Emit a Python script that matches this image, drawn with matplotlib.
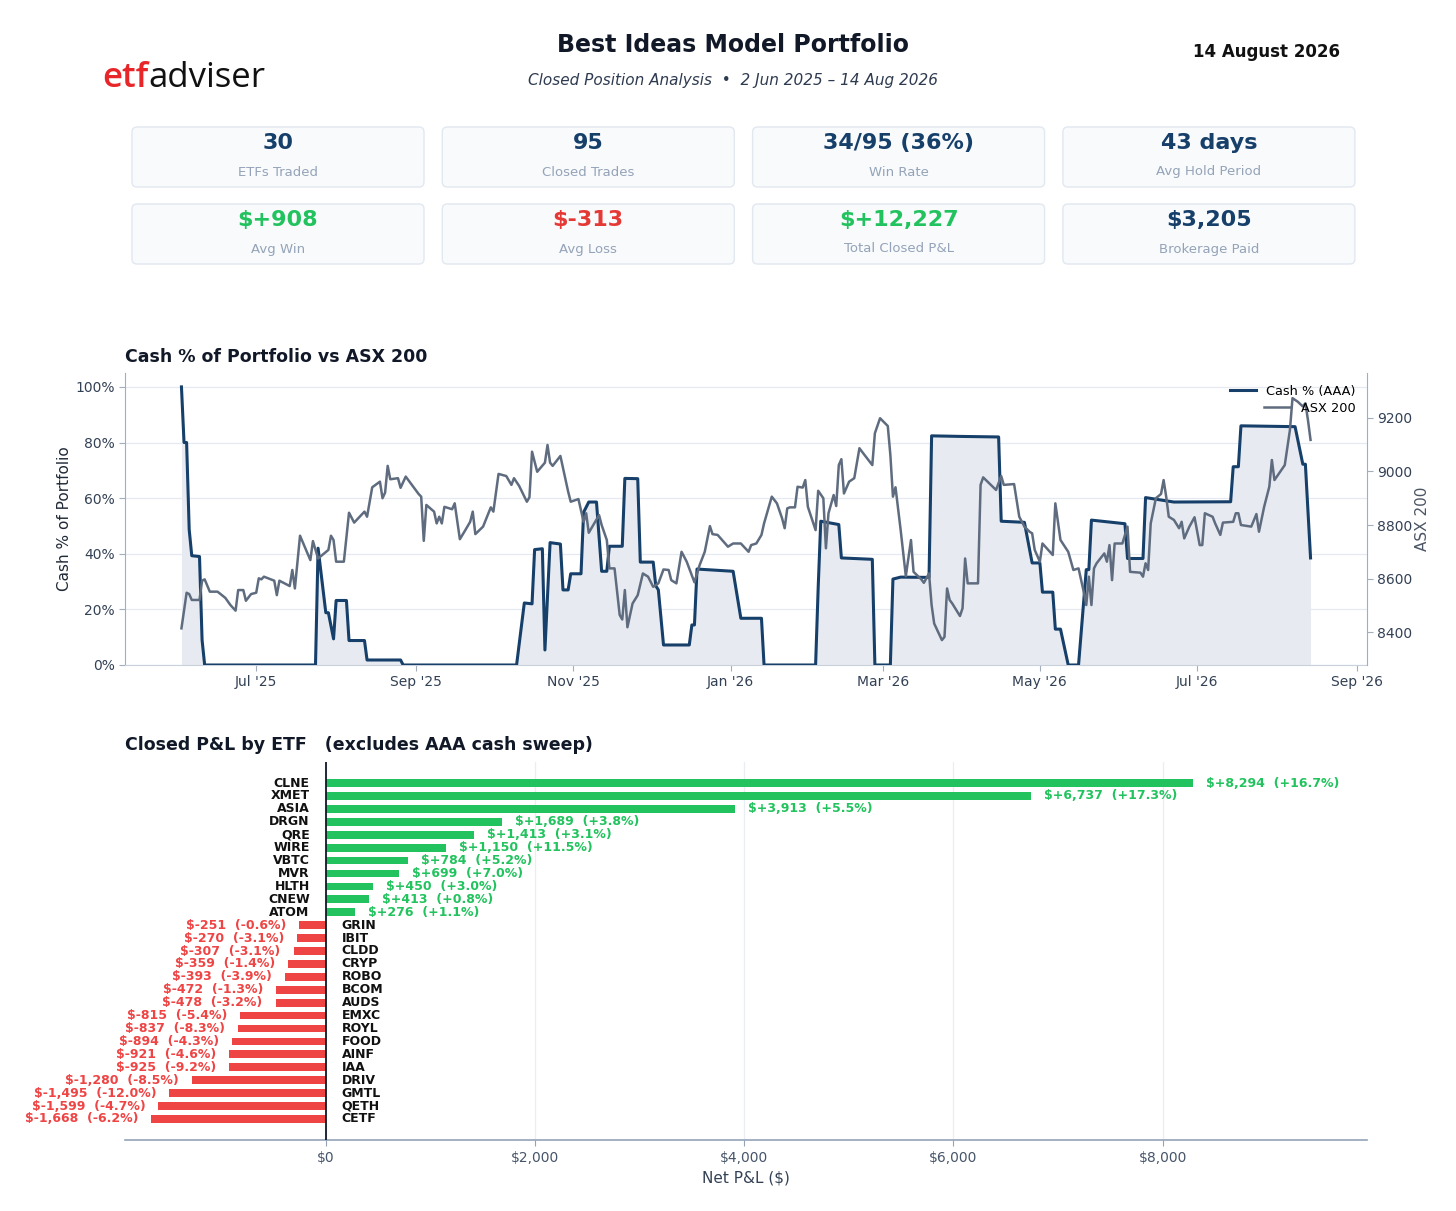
import matplotlib
matplotlib.use('Agg')
import matplotlib.pyplot as plt
import matplotlib.dates as mdates
import matplotlib.ticker as mticker
from matplotlib.patches import FancyBboxPatch
import numpy as np
import pandas as pd

plt.rcParams['font.family'] = ['DejaVu Sans']

# ---------------- data ----------------
START = '2025-06-02'

cash_day = [0, 1, 2, 3, 4, 7, 8, 9,
            52, 53, 56, 57, 59, 60, 64, 65, 71, 72, 85, 86,
            130, 133, 136, 137, 140, 141, 143, 147, 148, 150, 151, 155, 156, 158, 161, 163, 165, 166,
            171, 172, 177, 178, 183, 184, 185, 187, 197, 198, 199, 200, 214, 217, 225, 226,
            246, 247, 248, 255, 256, 268, 269, 275, 276, 279, 290, 291, 302, 317, 318, 327, 330,
            333, 334, 338, 339, 341, 344, 348, 351, 352, 353, 366, 367, 373, 374, 385, 407, 408,
            410, 411, 432, 435, 436, 438]
cash_pct = [100, 80, 80, 48.7, 39.3, 39, 9, 0,
            0, 42, 18.8, 18.8, 9.4, 23.2, 23.2, 8.8, 8.8, 1.8, 1.8, 0,
            0, 22.3, 22, 41.5, 41.8, 5.4, 44, 43.5, 27, 27, 32.8, 32.8, 54.9, 58.6, 58.6, 33.7, 33.7, 42.7,
            42.7, 67.1, 67, 37, 37, 28.5, 27, 7.2, 7.2, 14.4, 14.4, 34.5, 33.7, 16.8, 16.8, 0,
            0, 27.8, 51.7, 50.5, 38.5, 38, 0, 0, 30.9, 31.6, 31.5, 82.4, 82.2, 82, 51.7, 51.3, 36.7,
            36.7, 26.2, 26.2, 12.9, 12.9, 0, 0, 34.3, 34.3, 52.1, 50.8, 38.3, 38.3, 60.2, 58.6, 58.7, 71.3,
            71.3, 86, 85.7, 72.2, 72.2, 38.5]

asx_day = [0, 2, 3, 4, 7, 8, 9, 11, 14, 17, 19, 21, 22, 24, 25, 27, 29, 30, 31, 32, 36, 37, 38,
           42, 43, 44, 46, 50, 51, 53, 57, 58, 59, 60, 63, 65, 67, 71, 72, 74, 77, 78, 79, 80, 81,
           84, 85, 87, 92, 93, 94, 95, 98, 99, 100, 101, 102, 105, 106, 108, 110, 112, 113, 114,
           117, 120, 121, 123, 126, 128, 129, 131, 134, 135, 136, 138, 141, 142, 143, 144, 147,
           150, 151, 154, 156, 157, 158, 162, 163, 165, 166, 168, 170, 171, 172, 173, 175, 177,
           179, 181, 183, 185, 187, 189, 190, 192, 194, 196, 199, 201, 203, 205, 206, 208, 210,
           212, 214, 217, 220, 221, 223, 225, 226, 229, 231, 233, 234, 235, 236, 238, 239, 241,
           242, 243, 246, 247, 249, 250, 251, 253, 254, 255, 256, 257, 259, 261, 263, 264, 268,
           269, 271, 274, 275, 276, 277, 279, 281, 283, 284, 287, 288, 290, 291, 292, 295, 296,
           297, 298, 299, 302, 303, 304, 305, 309, 310, 311, 316, 318, 319, 323, 325, 327, 329,
           330, 331, 333, 334, 338, 339, 341, 344, 346, 348, 350, 351, 352, 353, 354, 355, 358,
           359, 360, 361, 362, 365, 367, 368, 372, 373, 374, 375, 376, 378, 380, 381, 382, 383,
           385, 387, 388, 389, 391, 393, 395, 396, 397, 400, 401, 403, 404, 408, 409, 410, 411,
           415, 417, 418, 420, 422, 423, 424, 428, 430, 431, 433, 435, 436, 437, 438]
asx_val = [8414, 8547, 8542, 8520, 8520, 8592, 8597, 8551, 8551, 8528, 8501, 8480, 8557, 8557, 8517,
           8542, 8547, 8601, 8597, 8607, 8592, 8538, 8592,
           8572, 8632, 8563, 8760, 8669, 8740, 8675, 8707, 8760, 8744, 8663, 8663, 8846, 8809, 8850,
           8831, 8941, 8962, 8900, 8921, 9021, 8971,
           8975, 8939, 8981, 8916, 8906, 8741, 8875, 8850, 8806, 8831, 8806, 8868, 8859, 8881, 8747,
           8779, 8812, 8850, 8766,
           8794, 8866, 8850, 8991, 8983, 8950, 8975, 8946, 8887, 8904, 9074, 8999, 9033, 9099, 9033,
           9021, 9058,
           8925, 8887, 8897, 8812, 8844, 8771, 8837, 8800, 8744, 8638, 8638, 8464, 8447, 8557, 8418,
           8507, 8538,
           8619, 8607, 8569, 8582, 8634, 8632, 8594, 8582, 8700, 8663, 8586, 8650, 8700, 8796, 8766,
           8763, 8741,
           8719, 8731, 8731, 8700, 8725, 8731, 8763, 8806, 8906, 8881, 8825, 8788, 8862, 8866, 8866,
           8943, 8940,
           8968, 8868, 8781, 8928, 8900, 8713, 8844, 8912, 8871, 9024, 9046, 8918, 8962, 8975, 9087,
           9074, 9024,
           9143, 9199, 9170, 9062, 8906, 8941, 8781, 8609, 8744, 8625, 8597, 8584, 8619, 8501, 8432,
           8370, 8382,
           8563, 8520, 8507, 8460, 8489, 8675, 8582, 8582, 8950, 8978, 8931, 8983, 8950, 8953, 8831,
           8794, 8775,
           8769, 8707, 8663, 8731, 8688, 8881, 8744, 8700, 8632, 8638, 8551, 8501, 8607, 8501, 8638,
           8657, 8694,
           8663, 8725, 8594, 8731, 8731, 8794, 8625, 8622, 8607, 8657, 8632, 8806, 8900, 8916, 8968,
           8906, 8831,
           8819, 8788, 8812, 8750, 8794, 8829, 8725, 8725, 8844, 8831, 8806, 8763, 8809, 8812, 8844,
           8844, 8800,
           8794, 8841, 8775, 8868, 8943, 9043, 8968, 9024, 9155, 9274, 9261, 9243, 9255, 9192, 9118]

kpi_values = ['30', '95', '34/95 (36%)', '43 days', '$+908', '$-313', '$+12,227', '$3,205']
kpi_labels = ['ETFs Traded', 'Closed Trades', 'Win Rate', 'Avg Hold Period',
              'Avg Win', 'Avg Loss', 'Total Closed P&L', 'Brokerage Paid']
kpi_kind = ['neutral', 'neutral', 'neutral', 'neutral', 'pos', 'neg', 'pos', 'neutral']

etf_names = ['CLNE', 'XMET', 'ASIA', 'DRGN', 'QRE', 'WIRE', 'VBTC', 'MVR', 'HLTH', 'CNEW', 'ATOM',
             'GRIN', 'IBIT', 'CLDD', 'CRYP', 'ROBO', 'BCOM', 'AUDS', 'EMXC', 'ROYL', 'FOOD', 'AINF',
             'IAA', 'DRIV', 'GMTL', 'QETH', 'CETF']
etf_pnl = [8294, 6737, 3913, 1689, 1413, 1150, 784, 699, 450, 413, 276,
           -251, -270, -307, -359, -393, -472, -478, -815, -837, -894, -921,
           -925, -1280, -1495, -1599, -1668]
etf_ret = [16.7, 17.3, 5.5, 3.8, 3.1, 11.5, 5.2, 7.0, 3.0, 0.8, 1.1,
           -0.6, -3.1, -3.1, -1.4, -3.9, -1.3, -3.2, -5.4, -8.3, -4.3, -4.6,
           -9.2, -8.5, -12.0, -4.7, -6.2]

# ---------------- colours ----------------
NAVY = '#163f6a'
GREEN = '#22c35e'
RED = '#ef4444'
SLATE = '#334155'
GREYLINE = '#5f6c7f'

W, H = 1456, 1211
fig = plt.figure(figsize=(W / 100, H / 100), dpi=100)

# background / header canvas in pixel units
hdr = fig.add_axes([0, 0, 1, 1], zorder=0)
hdr.set_xlim(0, W)
hdr.set_ylim(H, 0)
hdr.axis('off')

hdr.text(733, 45, 'Best Ideas Model Portfolio', ha='center', va='center',
         fontsize=17, fontweight='bold', color='#111827')
hdr.text(733, 81, 'Closed Position Analysis  \u2022  2 Jun 2025 \u2013 14 Aug 2026', ha='center',
         va='center', fontsize=11, style='italic', color='#2d3a4f')
hdr.text(1340, 52, '14 August 2026', ha='right', va='center', fontsize=12,
         fontweight='bold', color='#111111')
t1 = hdr.text(102, 78, 'etf', ha='left', va='center', fontsize=25, color='#e8262a',
              fontweight='semibold', family=['Open Sans', 'DejaVu Sans'])
hdr.annotate('adviser', xy=(1, 0), xycoords=t1, ha='left', va='bottom', fontsize=25,
             color='#111111', family=['Open Sans', 'DejaVu Sans'])

kind_color = {'neutral': NAVY, 'pos': GREEN, 'neg': '#e53935'}
card_w, card_h = 292, 60
for i, (val, lab, kind) in enumerate(zip(kpi_values, kpi_labels, kpi_kind)):
    r, c = divmod(i, 4)
    x0 = 132 + c * 310.3
    y0 = 127 + r * 77
    hdr.add_patch(FancyBboxPatch((x0, y0), card_w, card_h,
                                 boxstyle='round,pad=0,rounding_size=5',
                                 fc='#f8fafc', ec='#e2e8f0', lw=1.0))
    hdr.text(x0 + card_w / 2, y0 + 16, val, ha='center', va='center', fontsize=16,
             fontweight='bold', color=kind_color[kind])
    hdr.text(x0 + card_w / 2, y0 + 45, lab, ha='center', va='center', fontsize=9.5,
             color='#94a3b8')

# ---------------- cash vs ASX chart ----------------
ax1 = fig.add_axes([125 / W, 1 - 665 / H, (1367 - 125) / W, (665 - 373) / H], zorder=2)
dates_c = pd.Timestamp(START) + pd.to_timedelta(cash_day, unit='D')
dates_a = pd.Timestamp(START) + pd.to_timedelta(asx_day, unit='D')

ax1.fill_between(dates_c, cash_pct, 0, color='#e7ebf1', zorder=1, lw=0)
line_c, = ax1.plot(dates_c, cash_pct, color=NAVY, lw=2.2, zorder=3)
ax1.set_ylim(0, 105)
ax1.set_yticks([0, 20, 40, 60, 80, 100])
ax1.yaxis.set_major_formatter(mticker.PercentFormatter(decimals=0))
ax1.yaxis.grid(True, color='#e6eaf0', lw=0.9)
ax1.set_axisbelow(True)
ax1.set_ylabel('Cash % of Portfolio', fontsize=11, color='#1f2937', labelpad=2)
ax1.xaxis.set_major_locator(mdates.MonthLocator(bymonth=[1, 3, 5, 7, 9, 11]))
ax1.xaxis.set_major_formatter(mdates.DateFormatter("%b '%y"))
for s in ['top', 'right']:
    ax1.spines[s].set_visible(False)
ax1.spines['left'].set_color('#a3adbb')
ax1.spines['bottom'].set_color('#c8d1dc')
ax1.tick_params(axis='both', labelsize=10, colors=SLATE, length=4)
ax1.tick_params(axis='both', color='#a3adbb')

ax2 = ax1.twinx()
line_a, = ax2.plot(dates_a, asx_val, color=GREYLINE, lw=1.8, zorder=2)
ax2.set_ylim(8277, 9368)
ax2.yaxis.set_major_locator(mticker.MultipleLocator(200))
ax2.set_ylabel('ASX 200', fontsize=11, color='#4b5563', labelpad=2)
for s in ['top', 'left', 'bottom']:
    ax2.spines[s].set_visible(False)
ax2.spines['right'].set_color('#a3adbb')
ax2.tick_params(axis='y', labelsize=10, colors=SLATE, length=4)
ax2.tick_params(axis='y', color='#a3adbb')

ax1.legend([line_c], ['Cash % (AAA)'], loc='upper right', frameon=False, fontsize=9.3)
ax2.legend([line_a], ['ASX 200'], loc='upper right', bbox_to_anchor=(1, 0.942),
           frameon=False, fontsize=9.3)

hdr.text(125, 357, 'Cash % of Portfolio vs ASX 200', ha='left', va='center',
         fontsize=12.5, fontweight='bold', color='#111827')

# ---------------- closed P&L bars ----------------
ax3 = fig.add_axes([125 / W, 1 - 1140 / H, (1367 - 125) / W, (1140 - 762) / H], zorder=2)
ypos = np.arange(len(etf_names))
bar_cols = [GREEN if v >= 0 else RED for v in etf_pnl]
ax3.barh(ypos, etf_pnl, height=0.6, color=bar_cols, zorder=2)
ax3.invert_yaxis()
vmax = max(etf_pnl)
vmin = min(etf_pnl)
ax3.set_xlim(vmin * 1.15, vmax * 1.2)
ax3.axvline(0, color='#111827', lw=1.3, zorder=3)
ax3.xaxis.set_major_locator(mticker.MultipleLocator(2000))
ax3.xaxis.set_major_formatter(mticker.FuncFormatter(lambda v, p: f'${v:,.0f}'))
ax3.xaxis.grid(True, color='#e8eef3', lw=0.9)
ax3.set_axisbelow(True)
ax3.set_yticks([])
for s in ['top', 'right', 'left']:
    ax3.spines[s].set_visible(False)
ax3.spines['bottom'].set_color('#94a3b8')
ax3.spines['bottom'].set_linewidth(1.2)
ax3.tick_params(axis='x', labelsize=10, colors='#475569', length=4, color='#94a3b8', pad=4)
ax3.set_xlabel('Net P&L ($)', fontsize=11, color=SLATE, labelpad=4)

val_off = vmax * 0.015
name_off = vmax * 0.0185
for y, name, v, r in zip(ypos, etf_names, etf_pnl, etf_ret):
    if v >= 0:
        ax3.text(v + val_off, y, f'$+{v:,}  (+{r:.1f}%)', ha='left', va='center',
                 fontsize=9, fontweight='bold', color=GREEN)
        ax3.text(-name_off, y, name, ha='right', va='center', fontsize=9,
                 fontweight='bold', color='#111111')
    else:
        ax3.text(v - val_off, y, f'$-{abs(v):,}  ({r:.1f}%)', ha='right', va='center',
                 fontsize=9, fontweight='bold', color=RED)
        ax3.text(name_off, y, name, ha='left', va='center', fontsize=9,
                 fontweight='bold', color='#111111')

hdr.text(125, 745, 'Closed P&L by ETF   (excludes AAA cash sweep)', ha='left', va='center',
         fontsize=12.5, fontweight='bold', color='#111827')

fig.savefig('out.png', dpi=100)
